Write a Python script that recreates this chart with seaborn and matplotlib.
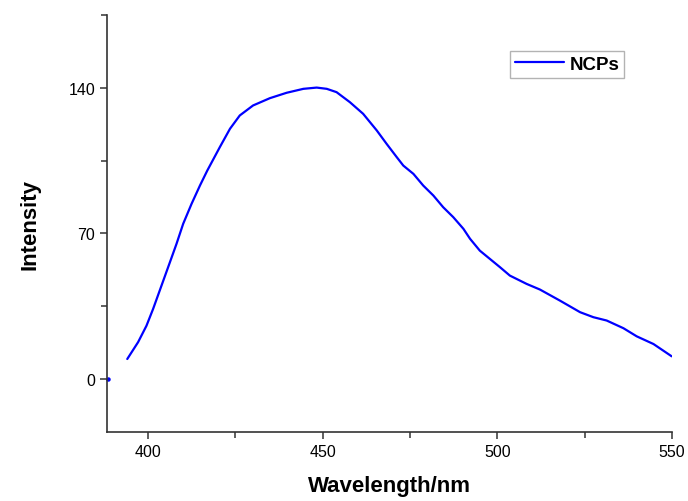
# Fluorescence emission spectrum of NCPs
import pandas as pd
import seaborn as sns
import matplotlib.pyplot as plt
from matplotlib.ticker import MultipleLocator

# Values
wavelength = [394.1, 397.2, 399.6, 401.5, 403.9, 406.3, 408.2, 410.1, 412.5,
              414.9, 417.0, 420.6, 423.5, 426.3, 430.1, 434.9, 439.7, 444.5,
              448.3, 451.2, 454.0, 457.8, 461.6, 465.5, 468.3, 471.2, 473.1,
              476.0, 478.8, 481.7, 484.5, 487.4, 490.3, 492.2, 495.0, 497.9,
              500.8, 503.6, 508.4, 512.2, 517.9, 523.7, 527.5, 531.3, 536.1,
              539.9, 544.7, 549.9]
intensity = [9.6, 17.7, 25.6, 33.7, 44.9, 56.1, 65.0, 74.6, 84.2,
             93.0, 100.2, 111.5, 120.3, 126.7, 131.5, 135.0, 137.6, 139.5,
             140.1, 139.5, 137.9, 133.1, 127.5, 119.5, 113.1, 106.7, 102.6,
             98.6, 93.0, 88.2, 82.6, 77.8, 72.2, 67.4, 61.7, 57.7,
             53.7, 49.7, 45.7, 43.0, 37.7, 32.1, 29.7, 28.1, 24.4,
             20.5, 16.8, 10.9]
stray_x = [388.5]
stray_y = [0.0]

df = pd.DataFrame({'Wavelength': wavelength, 'Intensity': intensity})

sns.set_style('ticks')
plt.rcParams['font.family'] = ['Liberation Sans', 'DejaVu Sans']

fig = plt.figure(figsize=(6.88, 5.02), dpi=100)
ax = fig.add_axes([107/688, 1 - 433/502, (672 - 107)/688, (433 - 16)/502])

sns.lineplot(data=df, x='Wavelength', y='Intensity', color='#0000ff',
             linewidth=1.6, label='NCPs', ax=ax, sort=False)
ax.plot(stray_x, stray_y, 'o', color='#0000ff', markersize=2.2, clip_on=False)

ax.set_xlim(388.3, 550)
ax.set_ylim(-25.5, 175)
ax.xaxis.set_major_locator(MultipleLocator(50))
ax.xaxis.set_minor_locator(MultipleLocator(25))
ax.yaxis.set_major_locator(MultipleLocator(70))
ax.yaxis.set_minor_locator(MultipleLocator(35))
ax.tick_params(which='major', direction='out', length=5, width=1.1,
               labelsize=11.5, colors='#333333', labelcolor='black')
ax.tick_params(which='minor', direction='out', length=4, width=1.1,
               colors='#333333')

for side in ['top', 'right']:
    ax.spines[side].set_visible(False)
for side in ['left', 'bottom']:
    ax.spines[side].set_linewidth(1.2)
    ax.spines[side].set_color('#333333')

ax.set_xlabel('Wavelength/nm', fontsize=16, fontweight='bold',
              color='black', labelpad=12)
ax.set_ylabel('Intensity', fontsize=16, fontweight='bold',
              color='black', labelpad=20)

leg = ax.legend(loc='upper right', bbox_to_anchor=(624/688, 1 - 52/502),
                bbox_transform=fig.transFigure, borderaxespad=0,
                fancybox=False, frameon=True, handlelength=2.6,
                handletextpad=0.3, borderpad=0.25,
                prop={'weight': 'bold', 'size': 13.5})
leg.get_frame().set_edgecolor('#a0a0a0')
leg.get_frame().set_linewidth(1.0)
for t in leg.get_texts():
    t.set_color('black')

fig.savefig('out.png', dpi=100)
